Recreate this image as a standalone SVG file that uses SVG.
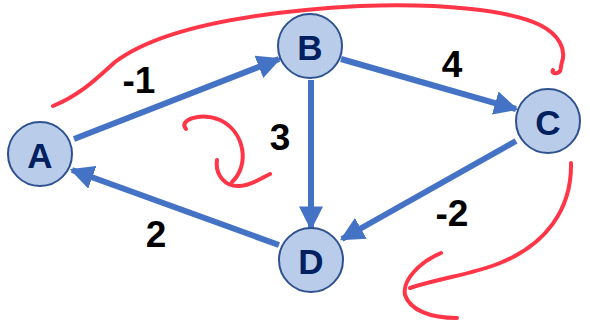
<svg xmlns="http://www.w3.org/2000/svg" width="590" height="325" viewBox="0 0 590 325">
<style>
.edge{stroke:#4472C4;stroke-width:6;fill:none}
.node circle{fill:#B9CDEB;stroke:#2F528F;stroke-width:2}
.node text{font-family:"Liberation Sans",Arial,sans-serif;font-weight:bold;font-size:35px;fill:#002060;text-anchor:middle;dominant-baseline:central}
.lbl{font-family:"Liberation Sans",Arial,sans-serif;font-weight:bold;font-size:37px;fill:#000;text-anchor:middle;dominant-baseline:central}
.red{stroke:#FF3548;stroke-width:4;fill:none;stroke-linecap:round;stroke-linejoin:round}
</style>
<defs>
<marker id="ah" markerWidth="4" markerHeight="4" refX="3.6" refY="2" orient="auto" markerUnits="strokeWidth">
<path d="M0,0 L4,2 L0,4 Z" fill="#4472C4"/>
</marker>
</defs>
<g id="connectors">
<line class="edge" x1="74" y1="139" x2="279" y2="59" marker-end="url(#ah)"/>
<line class="edge" x1="341" y1="59" x2="516" y2="109" marker-end="url(#ah)"/>
<line class="edge" x1="311" y1="80" x2="311" y2="228" marker-end="url(#ah)"/>
<line class="edge" x1="516" y1="141" x2="342" y2="239" marker-end="url(#ah)"/>
<line class="edge" x1="279" y1="245" x2="72" y2="170" marker-end="url(#ah)"/>
</g>
<g id="labels">
<text class="lbl" x="139" y="80">-1</text>
<text class="lbl" x="452" y="64">4</text>
<text class="lbl" x="280" y="137">3</text>
<text class="lbl" x="452" y="213">-2</text>
<text class="lbl" x="156" y="234">2</text>
</g>
<g id="A" class="node"><circle cx="40" cy="154" r="32"/><text x="40" y="155">A</text></g>
<g id="B" class="node"><circle cx="310" cy="46" r="32"/><text x="310" y="47">B</text></g>
<g id="C" class="node"><circle cx="548" cy="121" r="32"/><text x="548" y="122">C</text></g>
<g id="D" class="node"><circle cx="311" cy="260" r="32"/><text x="311" y="261">D</text></g>
<g id="annotations">
<path class="red" d="M53,106 C80,95 95,80 115,62 C160,28 250,12 360,6 C440,3 510,10 540,25 C560,35 566,50 562,62 C560,68 562,72 557,73 C553,74 552,72 553,70"/>
<path class="red" d="M186,129 C178,120 200,112 220,120 C245,132 250,165 232,182"/>
<path class="red" d="M217,160 C215,175 225,187 240,186 C252,185 262,178 270,174"/>
<path class="red" d="M571,163 C572,210 545,245 500,263 C470,275 440,278 410,288"/>
<path class="red" d="M441,253 C420,262 402,280 405,295 C410,310 430,318 457,318"/>
</g>
</svg>
